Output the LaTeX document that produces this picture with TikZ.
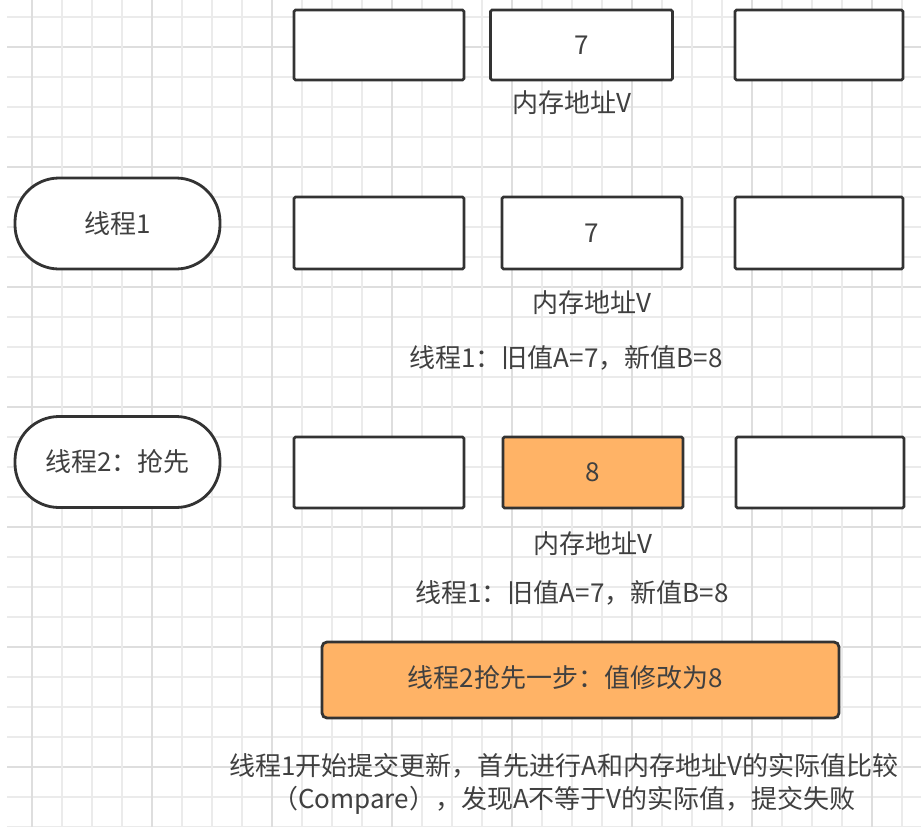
\documentclass[tikz,border=0pt]{standalone}
\usepackage{fontspec}
\setmainfont{Noto Sans CJK SC}
\definecolor{gridminor}{HTML}{EBEBEB}
\definecolor{gridmajor}{HTML}{DEDEDE}
\definecolor{dk}{HTML}{333333}
\definecolor{txt}{HTML}{404040}
\definecolor{orng}{HTML}{FFB366}
\begin{document}
\begin{tikzpicture}[x=1pt,y=-1pt,
  cell/.style={draw=dk, line width=2.8pt, fill=white, rounded corners=1.5pt, inner sep=0pt, text=txt, font=\fontsize{26}{30}\selectfont},
  hot/.style={cell, fill=orng},
  pill/.style={draw=dk, line width=2.8pt, fill=white, rounded corners=44pt, minimum width=205pt, minimum height=91pt, inner sep=0pt, text=txt, font=\fontsize{26}{30}\selectfont},
  lbl/.style={inner sep=0pt, text=txt, font=\fontsize{26}{30}\selectfont},
  wide/.style={draw=dk, line width=2.8pt, fill=orng, rounded corners=5pt, minimum width=517pt, minimum height=76pt, inner sep=0pt}
]
\useasboundingbox (0,0) rectangle (921,827);
\fill[white] (0,0) rectangle (921,827);
% grid
\foreach \k in {0,...,27}{
  \pgfmathtruncatemacro{\m}{mod(\k+3,4)}
  \ifnum\m=0 \def\gc{gridmajor}\else\def\gc{gridminor}\fi
  \draw[\gc, line width=1.6pt] (7,17+30*\k) -- (921,17+30*\k);
}
\foreach \k in {0,...,29}{
  \pgfmathtruncatemacro{\m}{mod(\k,4)}
  \ifnum\m=0 \def\gc{gridmajor}\else\def\gc{gridminor}\fi
  \draw[\gc, line width=1.6pt] (31.7+30*\k,0) -- (31.7+30*\k,827);
}
% row 1
\node[cell, minimum width=170pt, minimum height=70pt] (r1a) at (379,45) {};
\node[cell, minimum width=182pt, minimum height=70pt] (r1b) at (581.5,45) {7};
\node[cell, minimum width=168pt, minimum height=70pt] (r1c) at (819,45) {};
\node[lbl] (v1) at (572,103) {内存地址V};
% row 2
\node[pill] (t1) at (117.5,223.5) {线程1};
\node[cell, minimum width=170pt, minimum height=72pt] (r2a) at (379,233) {};
\node[cell, minimum width=180pt, minimum height=72pt] (r2b) at (592,233) {7};
\node[cell, minimum width=168pt, minimum height=72pt] (r2c) at (819,233) {};
\node[lbl] (v2) at (592,303) {内存地址V};
\node[lbl] (s1) at (566,358) {线程1：旧值A=7，新值B=8};
% row 3
\node[pill] (t2) at (117.5,462) {线程2：抢先};
\node[cell, minimum width=170pt, minimum height=71pt] (r3a) at (379,472.5) {};
\node[hot, minimum width=180pt, minimum height=71pt] (r3b) at (593,472.5) {8};
\node[cell, minimum width=168pt, minimum height=71pt] (r3c) at (820,472.5) {};
\node[lbl] (v3) at (593,544) {内存地址V};
\node[lbl] (s2) at (572,593) {线程1：旧值A=7，新值B=8};
% wide box
\node[wide] (w) at (580.5,680) {};
\node[lbl] (wt) at (565,678) {线程2抢先一步：值修改为8};
% bottom text
\node[lbl, align=center, font=\fontsize{26}{33}\selectfont] (bt) at (564,784) {线程1开始提交更新，首先进行A和内存地址V的实际值比较\\（Compare），发现A不等于V的实际值，提交失败};
\end{tikzpicture}
\end{document}
